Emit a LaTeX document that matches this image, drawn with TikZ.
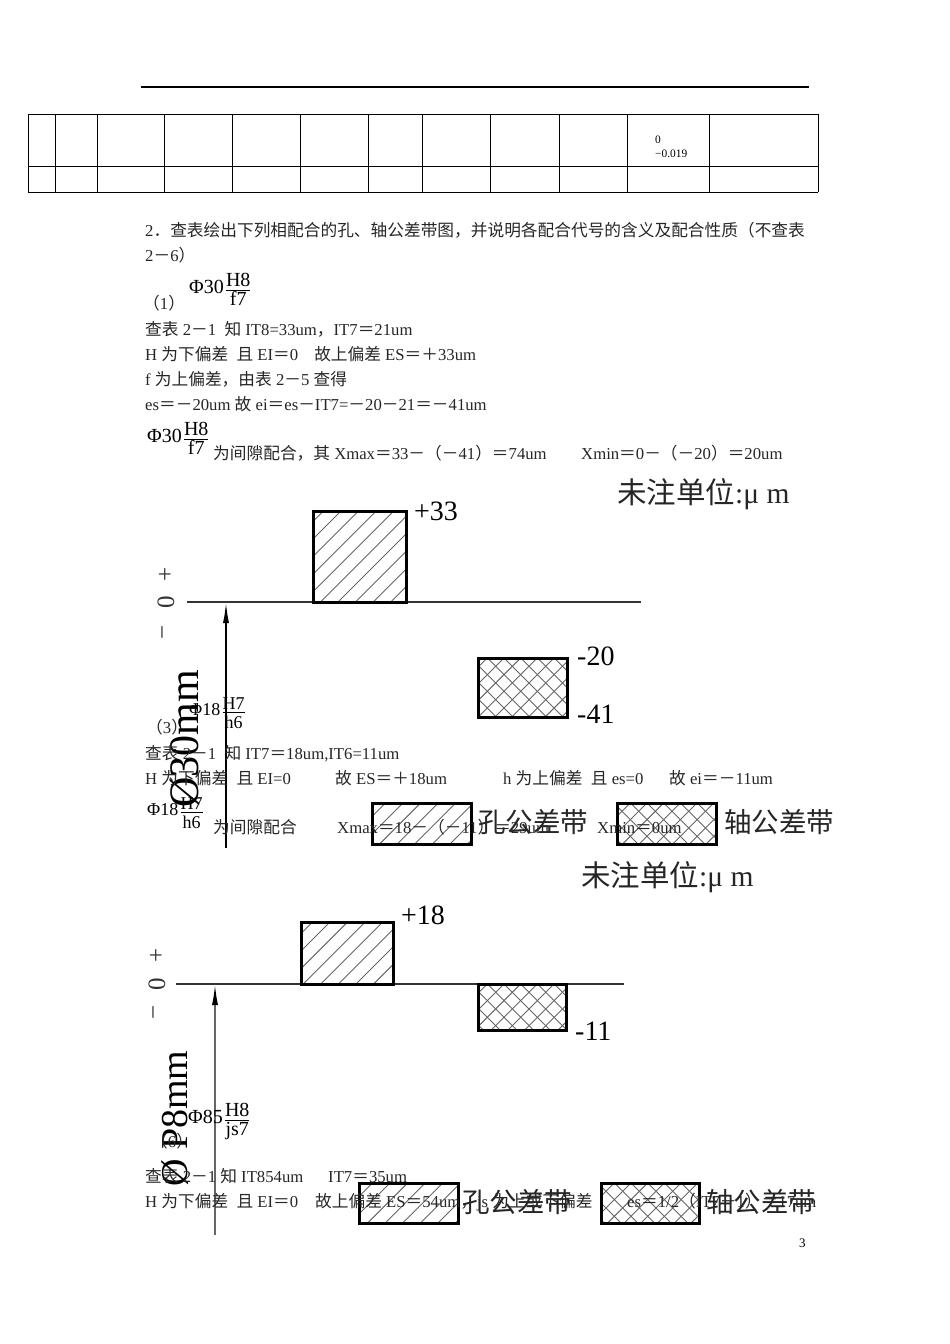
\documentclass[tikz,border=0pt]{standalone}
\usepackage{fontspec}
\setmainfont{Liberation Serif}
\newfontfamily\cjkfont{Noto Sans CJK SC}
\usetikzlibrary{arrows.meta}

\newcommand{\zh}[1]{{\cjkfont #1}}
\newcommand{\fitcode}[3]{#1\kern1pt\raisebox{-2pt}{$\frac{\mbox{\rule[-2.5pt]{0pt}{3pt}#2}}{\mbox{\rule{0pt}{15pt}#3}}$}}
% hatched tolerance bands: x1, y1, x2, y2, phase of the lines on the top edge
\newcommand{\holeband}[5]{%
  \begin{scope}
    \clip (#1,#2) rectangle (#3,#4);
    \foreach \s in {0,...,14} {
      \draw[hatchline] (#5-70+17.6*\s,#2) -- +(-120,120);
    }
  \end{scope}
  \draw[bandframe] (#1,#2) rectangle (#3,#4);
}
\newcommand{\shaftband}[5]{%
  \begin{scope}
    \clip (#1,#2) rectangle (#3,#4);
    \foreach \s in {0,...,18} {
      \draw[hatchline] (#5-100+16.7*\s,#2) -- +(-120,120);
      \draw[hatchline] (#5-200+16.7*\s,#2) -- +(120,120);
    }
  \end{scope}
  \draw[bandframe] (#1,#2) rectangle (#3,#4);
}

\tikzset{
  bodytext/.style={anchor=base west,inner sep=0pt,font=\fontsize{16.7}{20}\selectfont,text=black!85},
  fitnode/.style={anchor=base west,inner sep=0pt,font=\fontsize{#1}{22}\selectfont},
  bigtext/.style={anchor=base west,inner sep=0pt,font=\fontsize{28}{32}\selectfont},
  bandtext/.style={anchor=base west,inner sep=0pt,font=\fontsize{27.5}{32}\selectfont,text=black!85},
  sizetext/.style={anchor=base west,inner sep=0pt,rotate=90,font=\fontsize{#1}{44}\selectfont},
  signtext/.style={inner sep=0pt,rotate=90,font=\fontsize{25}{28}\selectfont,text=black!80},
  gridline/.style={line width=1pt},
  axisline/.style={line width=1.1pt,black!80},
  sizeline/.style={line width=1.2pt,-{Latex[length=20pt,width=6pt,color=black]}},
  hatchline/.style={line width=.9pt,black!60},
  bandframe/.style={line width=3pt},
}

\begin{document}
\begin{tikzpicture}[x=1pt,y=-1pt]
\useasboundingbox (0,0) rectangle (950,1344);

% header rule and table
\draw[line width=2pt] (141,87) -- (809,87);
\foreach \x in {28,55,97,164,232,300,368,422,490,559,627,709,818}
  \draw[gridline] (\x,114) -- (\x,192);
\foreach \y in {114,166,192}
  \draw[gridline] (28,\y) -- (818,\y);
\node[anchor=base west,inner sep=0pt,font=\fontsize{11.4}{13}\selectfont] (cellA) at (655,143) {0};
\node[anchor=base west,inner sep=0pt,font=\fontsize{11.4}{13}\selectfont] (cellB) at (655,157) {−0.019};

% first band diagram
\coordinate (zeroA) at (187,602);
\coordinate (zeroB) at (641,602);
\coordinate (footA) at (226,848);
\coordinate (headA) at (226,603);
\draw[axisline] (zeroA) -- (zeroB);
\draw[sizeline] (footA) -- (headA);
\holeband{313}{511}{406}{602}{323}
\shaftband{478}{658}{567}{717}{487}
\holeband{372}{803}{471}{844}{385}
\shaftband{617}{803}{716}{844}{630}
\node[signtext] (plusA) at (166,574) {+};
\node[signtext] (nullA) at (166,602) {0};
\node[signtext] (minusA) at (166,632) {−};
\node[sizetext=42] (sizeA) at (198,808) {Ø30mm};
\node[bigtext] (upperA) at (414,520) {+33};
\node[bigtext] (lowerA) at (577,665) {-20};
\node[bigtext] (lowerB) at (577,723) {-41};
\node[bandtext,font=\fontsize{29.5}{32}\selectfont] (unitA) at (617,503) {\zh{未注单位}:μ m};
\node[bandtext] (holeA) at (478,832) {\zh{孔公差带}};
\node[bandtext] (shaftA) at (724,832) {\zh{轴公差带}};

% second band diagram
\coordinate (zeroC) at (176,984);
\coordinate (zeroD) at (624,984);
\coordinate (footB) at (215,1235);
\coordinate (headB) at (215,985);
\draw[axisline] (zeroC) -- (zeroD);
\draw[sizeline,black!60] (footB) -- (headB);
\holeband{301}{922}{393}{984}{312}
\shaftband{478}{984}{566}{1030}{487}
\holeband{359}{1183}{458}{1223}{372}
\shaftband{601}{1183}{699}{1223}{614}
\node[signtext] (plusB) at (157,955) {+};
\node[signtext] (nullB) at (157,984) {0};
\node[signtext] (minusB) at (157,1012) {−};
\node[sizetext=38] (sizeB) at (187,1187) {Ø P8mm};
\node[bigtext] (upperC) at (401,924) {+18};
\node[bigtext] (lowerC) at (575,1040) {-11};
\node[bandtext,font=\fontsize{29.5}{32}\selectfont] (unitB) at (581,886) {\zh{未注单位}:μ m};
\node[bandtext] (holeB) at (462,1212) {\zh{孔公差带}};
\node[bandtext] (shaftB) at (706,1212) {\zh{轴公差带}};

% body text
\node[bodytext] (lineA) at (145,236) {2\zh{．查表绘出下列相配合的孔、轴公差带图，并说明各配合代号的含义及配合性质（不查表}};
\node[bodytext] (lineB) at (145,261) {2\zh{－}6\zh{）}};
\node[bodytext] (lineC) at (143,309) {\zh{（}1\zh{）}};
\node[fitnode=20] (fitA) at (189,293) {\fitcode{Φ30}{H8}{f7}};
\node[bodytext] (lineD) at (145,335) {\zh{查表} 2\zh{－}1\ \ \zh{知} IT8=33um\zh{，}IT7\zh{＝}21um};
\node[bodytext] (lineE) at (145,360) {H \zh{为下偏差}\ \ \zh{且} EI\zh{＝}0\hspace{16pt}\zh{故上偏差} ES\zh{＝＋}33um};
\node[bodytext] (lineF) at (145,385) {f \zh{为上偏差，由表} 2\zh{－}5 \zh{查得}};
\node[bodytext] (lineG) at (145,410) {es\zh{＝－}20um \zh{故} ei\zh{＝}es\zh{－}IT7=\zh{－}20\zh{－}21\zh{＝－}41um};
\node[fitnode=20] (fitB) at (147,442) {\fitcode{Φ30}{H8}{f7}};
\node[bodytext] (lineH) at (213,459) {\zh{为间隙配合，其} Xmax\zh{＝}33\zh{－（－}41\zh{）＝}74um};
\node[bodytext] (lineI) at (581,459) {Xmin\zh{＝}0\zh{－（－}20\zh{）＝}20um};

\node[fitnode=18] (fitC) at (189,715) {\fitcode{Φ18}{H7}{h6}};
\node[bodytext] (lineJ) at (146,733) {\zh{（}3\zh{）}};
\node[bodytext] (lineK) at (145,759) {\zh{查表} 2\zh{－}1\ \ \zh{知} IT7\zh{＝}18um,IT6=11um};
\node[bodytext] (lineL) at (145,784) {H \zh{为下偏差}\ \ \zh{且} EI=0};
\node[bodytext] (lineM) at (335,784) {\zh{故} ES\zh{＝＋}18um};
\node[bodytext] (lineN) at (503,784) {h \zh{为上偏差}\ \ \zh{且} es=0};
\node[bodytext] (lineO) at (669,784) {\zh{故} ei\zh{＝－}11um};
\node[fitnode=18] (fitD) at (147,815) {\fitcode{Φ18}{H7}{h6}};
\node[bodytext] (lineP) at (213,833) {\zh{为间隙配合}};
\node[bodytext] (lineQ) at (337,833) {Xmax\zh{＝}18\zh{－（－}11\zh{）＝}29um};
\node[bodytext] (lineR) at (597,833) {Xmin\zh{＝}0um};

\node[fitnode=20] (fitE) at (188,1123) {\fitcode{Φ85}{H8}{js7}};
\node[bodytext] (lineS) at (151,1147) {\zh{（}6\zh{）}};
\node[bodytext] (lineT) at (145,1182) {\zh{查表} 2\zh{－}1 \zh{知} IT854um};
\node[bodytext] (lineU) at (328,1182) {IT7\zh{＝}35um};
\node[bodytext] (lineV) at (145,1207) {H \zh{为下偏差}\ \ \zh{且} EI\zh{＝}0};
\node[bodytext] (lineW) at (315,1207) {\zh{故上偏差} ES\zh{＝}54um\zh{，}js \zh{为上或下偏差}};
\node[bodytext] (lineX) at (627,1207) {es\zh{＝}1/2\zh{（}IT7\zh{－}1\zh{）＝}17um};

\node[anchor=base west,inner sep=0pt,font=\fontsize{13}{15}\selectfont] (pageno) at (799,1247) {3};
\end{tikzpicture}
\end{document}
